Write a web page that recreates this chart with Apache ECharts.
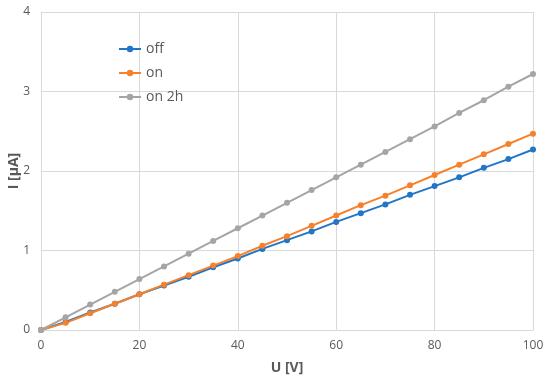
<!DOCTYPE html>
<html><head><meta charset="utf-8">
<script src="https://cdn.jsdelivr.net/npm/echarts@6/dist/echarts.min.js"></script>
<style>html,body{margin:0;padding:0;background:#fff}#c{width:550px;height:385px}</style>
</head><body><div id="c"></div>
<script>
const voltages = [0,5,10,15,20,25,30,35,40,45,50,55,60,65,70,75,80,85,90,95,100];
const offValues = [0,0.10,0.22,0.33,0.45,0.56,0.67,0.79,0.90,1.02,1.13,1.24,1.36,1.47,1.58,1.70,1.81,1.92,2.04,2.15,2.27];
const onValues = [0,0.09,0.21,0.33,0.45,0.57,0.69,0.81,0.93,1.06,1.18,1.31,1.44,1.57,1.69,1.82,1.95,2.08,2.21,2.34,2.47];
const on2hValues = [0,0.16,0.32,0.48,0.64,0.80,0.96,1.12,1.28,1.44,1.60,1.76,1.92,2.08,2.24,2.40,2.56,2.73,2.89,3.06,3.22];
const seriesNames = ['off','on','on 2h'];
const colors = ['#2176C7','#F7812A','#A5A5A5'];
const font = 'Open Sans, Noto Sans, sans-serif';
function pairs(vals){ return voltages.map((v,i)=>[v,vals[i]]); }
const chart = echarts.init(document.getElementById('c'));
chart.setOption({
  animation:false,
  color: colors,
  textStyle:{fontFamily:font},
  grid:{left:41,right:17,top:12,bottom:55,containLabel:false,outerBoundsMode:'none'},
  legend:{orient:'vertical',left:113,top:37,itemGap:10,itemWidth:22,itemHeight:8,
    textStyle:{fontSize:14,color:'#595959',fontFamily:font},
    data:seriesNames},
  xAxis:{type:'value',min:0,max:100,interval:20,name:'U [V]',nameLocation:'middle',nameGap:31,nameMoveOverlap:false,
    nameTextStyle:{fontSize:14,fontWeight:'bold',color:'#595959'},
    axisLine:{show:true,lineStyle:{color:'#d9d9d9'}},axisTick:{show:false},
    axisLabel:{fontSize:12,color:'#595959',margin:10},
    splitLine:{show:true,lineStyle:{color:'#d9d9d9'}}},
  yAxis:{type:'value',min:0,max:4,interval:1,name:'I [µA]',nameLocation:'middle',nameGap:20,nameMoveOverlap:false,
    nameTextStyle:{fontSize:14,fontWeight:'bold',color:'#595959'},
    axisLine:{show:true,lineStyle:{color:'#d9d9d9'}},axisTick:{show:false},
    axisLabel:{fontSize:12,color:'#595959',margin:11},
    splitLine:{show:true,lineStyle:{color:'#d9d9d9'}}},
  series:[offValues,onValues,on2hValues].map((vals,i)=>({
    name:seriesNames[i],type:'line',data:pairs(vals),symbol:'circle',symbolSize:6,
    showAllSymbol:true,lineStyle:{width:2},itemStyle:{color:colors[i]}
  }))
});
</script></body></html>
